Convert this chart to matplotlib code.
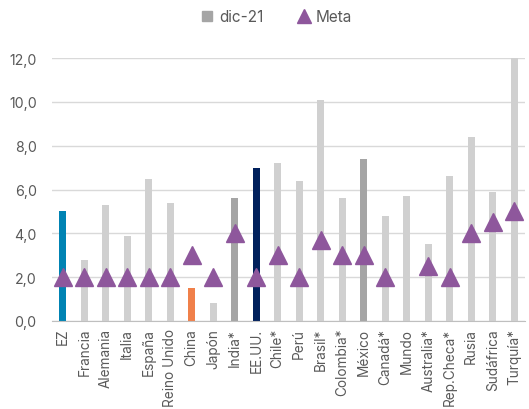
import numpy as np
import matplotlib.pyplot as plt
from matplotlib.lines import Line2D

plt.rcParams["font.family"] = ["Inter", "DejaVu Sans"]

countries = ["EZ", "Francia", "Alemania", "Italia", "España", "Reino Unido", "China",
             "Japón", "India*", "EE.UU.", "Chile*", "Perú", "Brasil*", "Colombia*",
             "México", "Canadá*", "Mundo", "Australia*", "Rep.Checa*", "Rusia",
             "Sudáfrica", "Turquía*"]
dic21 = [5.0, 2.8, 5.3, 3.9, 6.5, 5.4, 1.5, 0.8, 5.6, 7.0, 7.2, 6.4, 10.1, 5.6,
         7.4, 4.8, 5.7, 3.5, 6.6, 8.4, 5.9, 12.0]
meta = [2.0, 2.0, 2.0, 2.0, 2.0, 2.0, 3.0, 2.0, 4.0, 2.0, 3.0, 2.0, 3.7, 3.0,
        3.0, 2.0, np.nan, 2.5, 2.0, 4.0, 4.5, 5.0]
yticks = [0, 2, 4, 6, 8, 10, 12]

LIGHT = "#D0D0D0"
MID = "#A5A5A5"
highlight = {"EZ": "#0083B3", "China": "#F0804A", "India*": MID,
             "EE.UU.": "#00205C", "México": MID}
colors = [highlight.get(c, LIGHT) for c in countries]
TEXT = "#595959"
PURPLE = "#8E579C"

fig = plt.figure(figsize=(5.29, 4.10), dpi=100)
ax = fig.add_axes([52 / 529, 88 / 410, 473 / 529, 263 / 410])

x = np.arange(len(countries))
ax.bar(x, dic21, width=0.33, color=colors, zorder=2, clip_on=False)
ax.plot(x, meta, linestyle="none", marker="^", markersize=13.5, color=PURPLE,
        zorder=3, clip_on=False)

ax.set_xlim(-0.5, len(countries) - 0.5)
ax.set_ylim(0, 12)
ax.set_yticks(yticks)
ax.set_yticklabels([f"{v:.1f}".replace(".", ",") for v in yticks], fontsize=10.2)
ax.set_xticks(x)
ax.set_xticklabels(countries, rotation=90, ha="center", va="top", fontsize=9.8)
ax.tick_params(axis="both", length=0, labelcolor=TEXT)
ax.tick_params(axis="y", pad=11)
ax.tick_params(axis="x", pad=5)

ax.grid(axis="y", color="#D9D9D9", linewidth=1, zorder=0)
ax.set_axisbelow(True)
for side in ["top", "right", "left"]:
    ax.spines[side].set_visible(False)
ax.spines["bottom"].set_color("#BFBFBF")
ax.spines["bottom"].set_zorder(4)

handles = [
    Line2D([], [], linestyle="none", marker="s", markersize=7, color=MID),
    Line2D([], [], linestyle="none", marker="^", markersize=9.5, color=PURPLE),
]
fig.legend(handles, ["dic-21", "Meta"], loc="center", bbox_to_anchor=(276 / 529, 1 - 18 / 410),
           ncol=2, frameon=False, fontsize=11, labelcolor=TEXT, handletextpad=0.3,
           columnspacing=2.2, handlelength=0.9)

fig.savefig("out.png", dpi=100)
